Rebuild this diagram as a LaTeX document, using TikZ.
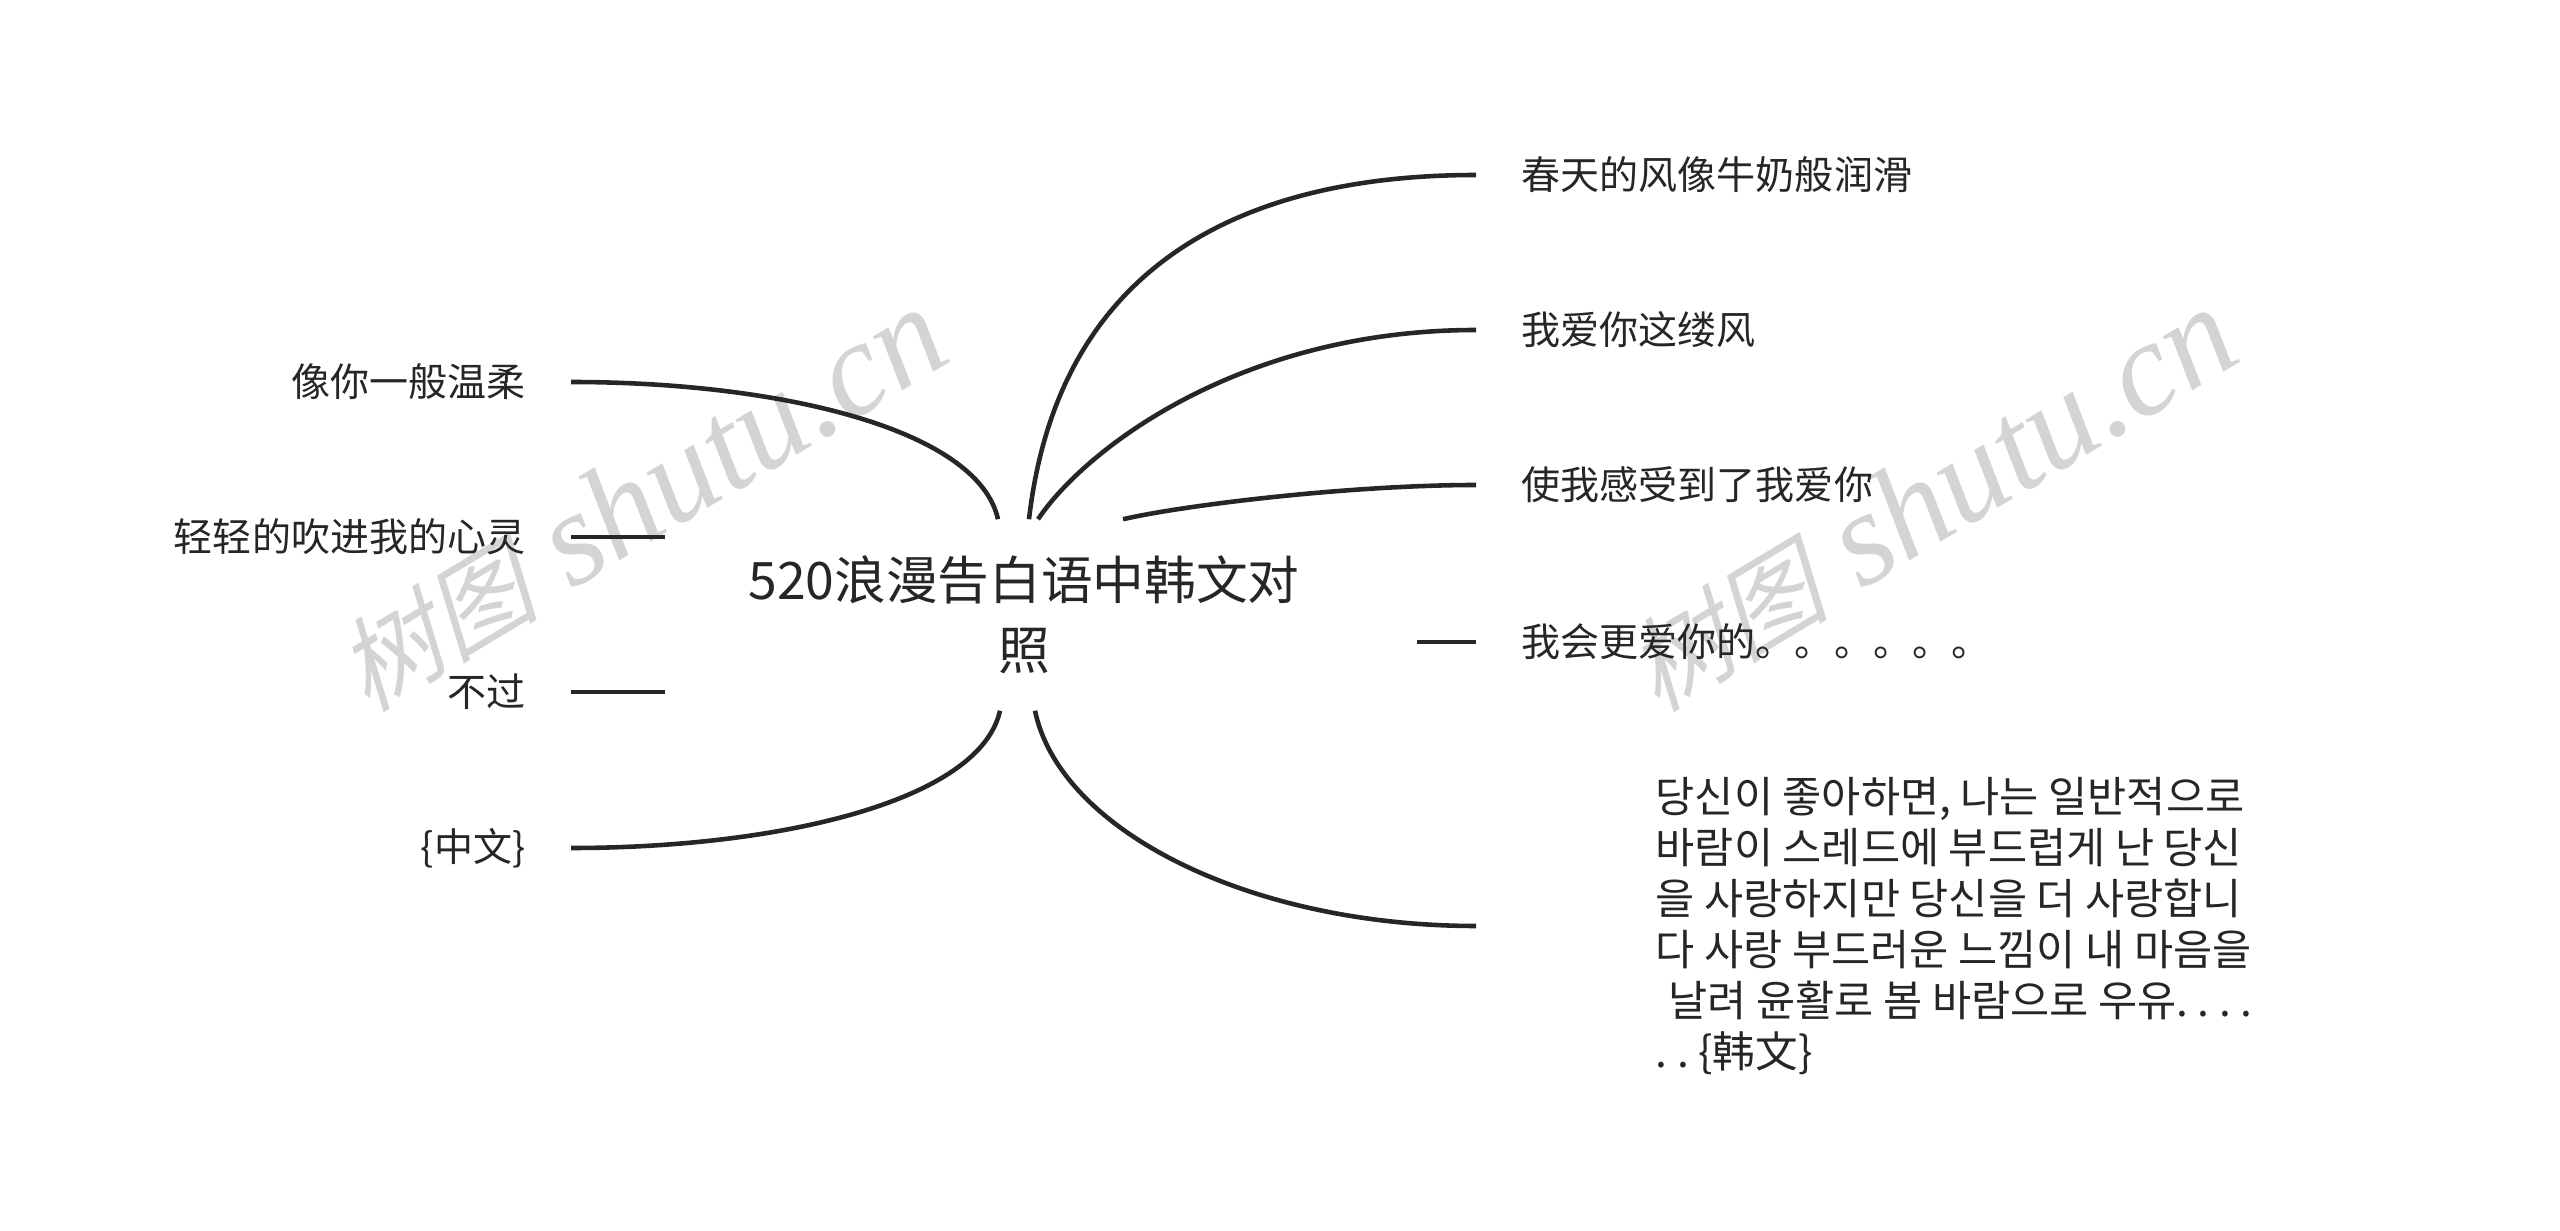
\documentclass[tikz,border=0pt]{standalone}
\usepackage{fontspec}
\usepackage{tikz}
\usetikzlibrary{positioning}
\setmainfont{Noto Sans CJK SC}
\newfontfamily\krfont{Noto Sans CJK KR}
\newfontfamily\wmlatin{Liberation Serif}
\newfontfamily\wmcjk{Noto Sans CJK SC}[FakeSlant=0.25]
\definecolor{inkc}{HTML}{262626}
\definecolor{wmgray}{HTML}{D4D4D4}
\tikzset{
	root/.style={minimum width=7.16cm, minimum height=1.9cm, inner sep=0pt, align=center, text=inkc, font=\fontsize{14.7pt}{19.9pt}\selectfont},
	leaf/.style={inner xsep=0.45cm, inner ysep=0pt, text=inkc, font=\fontsize{11.1pt}{14pt}\selectfont},
	krleaf/.style={leaf, inner xsep=1.79cm, align=left, font=\krfont\fontsize{12.1pt}{14.5pt}\selectfont},
	branch/.style={draw=inkc, line width=1.3pt},
	wmark/.style={text=wmgray, rotate=31, inner sep=0pt, font=\wmlatin\itshape\fontsize{38pt}{38pt}\selectfont}
}
\newcommand{\wmtext}{{\wmcjk\fontsize{29pt}{29pt}\selectfont 树图} shutu.cn}
\frenchspacing

\begin{document}
\begin{tikzpicture}[x=0.01cm, y=-0.01cm]
			 	\useasboundingbox (0,0) rectangle (2560,1231);
				\node[wmark] (wm1) at (640,500) {\wmtext};
				\node[wmark] (wm2) at (1930,500) {\wmtext};
				\node[root] (root) at (1024,615) {520浪漫告白语中韩文对\\照};
				\node[leaf, anchor=west] (chun) at (1476,175) {春天的风像牛奶般润滑};
				\node[leaf, anchor=west] (ai) at (1476,330) {我爱你这缕风};
				\node[leaf, anchor=west] (shi) at (1476,485) {使我感受到了我爱你};
				\node[leaf, anchor=west] (hui) at (1476,642) {我会更爱你的。。。。。。};
				\node[krleaf, anchor=west] (kr) at (1476,926) {당신이 좋아하면, 나는 일반적으로\\바람이 스레드에 부드럽게 난 당신\\을 사랑하지만 당신을 더 사랑합니\\다 사랑 부드러운 느낌이 내 마음을\\\hspace*{0.3em}날려 윤활로 봄 바람으로 우유. . . .\\. . \{韩文\}};
				\node[leaf, anchor=east] (rou) at (571,382) {像你一般温柔};
				\node[leaf, anchor=east] (qing) at (571,537) {轻轻的吹进我的心灵};
				\node[leaf, anchor=east] (bu) at (571,692) {不过};
				\node[leaf, anchor=east] (zhong) at (571,848) {\{中文\}};
				\path ([xshift=0.05cm]root.north) coordinate (pchun) ;
				\path ([xshift=0.14cm]root.north) coordinate (pai) ;
				\path ([xshift=0.99cm]root.north) coordinate (pshi) ;
				\path ([xshift=0.34cm]root.east) coordinate (phui) ;
				\path ([xshift=0.11cm]root.south) coordinate (pkr) ;
				\path ([xshift=-0.26cm]root.north) coordinate (prou) ;
				\path ([xshift=-0.24cm]root.south) coordinate (pzhong) ;
				\draw[branch] (pchun) .. controls +(30,-260) and +(-226,0) .. (chun.west);
				\draw[branch] (pai) .. controls +(47,-70) and +(-236,0) .. (ai.west);
				\draw[branch] (pshi) .. controls +(60,-14) and +(-126,0) .. (shi.west);
				\draw[branch] (phui |- hui.west) -- (hui.west);
				\draw[branch] (pkr) .. controls +(25,120) and +(-226,0) .. (kr.west);
				\draw[branch] (prou) .. controls +(-20,-90) and +(209,0) .. (rou.east);
				\draw[branch] (root.west |- qing.east) -- (qing.east) (root.west |- bu.east) -- (bu.east);
				\draw[branch] (pzhong) .. controls +(-20,90) and +(209,0) .. (zhong.east);
				\end{tikzpicture}
\end{document}
